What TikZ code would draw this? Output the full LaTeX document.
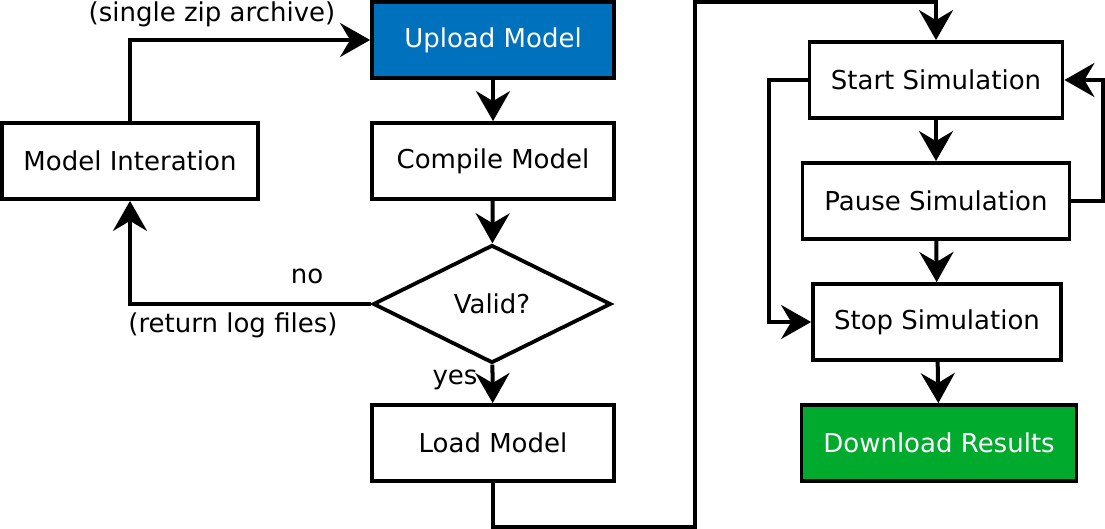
\documentclass[tikz,border=0pt]{standalone}
\usepackage{fontspec}
\setmainfont{DejaVu Sans}
\usetikzlibrary{shapes,arrows.meta,shadows}
\definecolor{uploadblue}{RGB}{0,114,189}
\definecolor{downgreen}{RGB}{0,170,45}
\tikzstyle{stepbox} = [rectangle, draw=black, line width=3.8pt, minimum height=76pt, text centered, font=\fontsize{26}{30}\selectfont, inner sep=0pt]
\tikzstyle{decision} = [diamond, draw=black, line width=3.8pt, minimum width=238pt, minimum height=118pt, aspect=2, inner sep=0pt, font=\fontsize{26}{30}\selectfont]
\tikzstyle{arrow} = [line width=4pt, -{Stealth[length=30pt,width=34pt,inset=10pt]}]
\tikzstyle{label} = [font=\fontsize{26}{30}\selectfont, inner sep=0pt]
\begin{document}
\begin{tikzpicture}[x=1pt,y=-1pt]
                        \useasboundingbox (0,0) rectangle (1105,529);
                        % left column
                        \node[stepbox, fill=uploadblue, text=white, minimum width=242pt] (upload) at (493,40) {Upload Model};
                        \node[stepbox, minimum width=242pt] (compile) at (493,161) {Compile Model};
                        \node[stepbox, minimum width=256pt] (iterate) at (130,161) {Model Interation};
                        \node[decision] (valid) at (492,304) {Valid?};
                        \node[stepbox, minimum width=242pt] (load) at (493,443) {Load Model};
                        % right column
                        \node[stepbox, minimum width=253pt] (start) at (936,80) {Start Simulation};
                        \node[stepbox, minimum width=267pt] (pause) at (936,201) {Pause Simulation};
                        \node[stepbox, minimum width=248pt] (stop) at (937,322) {Stop Simulation};
                        \node[stepbox, fill=downgreen, text=white, minimum width=275pt] (download) at (939,443) {Download Results};
                        % labels
                        \node[label] (zip) at (212,14) {(single zip archive)};
                        \node[label] (no) at (307,276) {no};
                        \node[label] (logs) at (233,325) {(return log files)};
                        \node[label] (yes) at (455,380) {yes};
                        % connectors
                        \draw[arrow] (iterate.north) |- (upload.west);
                        \draw[arrow] (upload) -- (compile);
                        \draw[arrow] (compile) -- (valid);
                        \draw[arrow] (valid.west) -| (iterate.south);
                        \draw[arrow] (valid) -- (load);
                        \draw[arrow] (load.south) -- ++(0,44) -| (695,2) -| (start.north);
                        \draw[arrow] (start) -- (pause);
                        \draw[arrow] (pause) -- (stop);
                        \draw[arrow] (stop) -- (download);
                        \draw[arrow] (start.west) -- ++(-39,0) |- (stop.west);
                        \draw[arrow] (pause.east) -- ++(32,0) |- (start.east);
                    \end{tikzpicture}
\end{document}
